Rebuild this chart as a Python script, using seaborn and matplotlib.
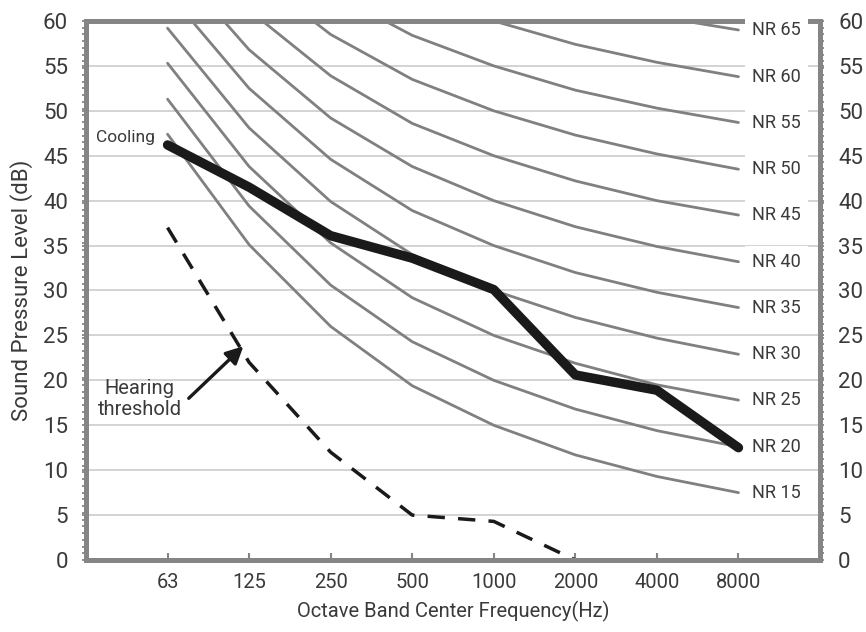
import numpy as np
import pandas as pd
import matplotlib
matplotlib.use('Agg')
import matplotlib.pyplot as plt
from matplotlib.ticker import MultipleLocator
import seaborn as sns

# ── DATA ────────────────────────────────────────────────────────────────────
FREQS = ["63", "125", "250", "500", "1000", "2000", "4000", "8000"]

NR_LABELS = ["NR 15", "NR 20", "NR 25", "NR 30", "NR 35", "NR 40",
             "NR 45", "NR 50", "NR 55", "NR 60", "NR 65"]
NR_LEVELS = [
    [47.4, 35.1, 26.0, 19.4, 15.0, 11.7, 9.3, 7.5],
    [51.3, 39.4, 30.6, 24.3, 20.0, 16.8, 14.4, 12.6],
    [55.3, 43.8, 35.3, 29.2, 25.0, 21.9, 19.5, 17.8],
    [59.2, 48.1, 39.9, 34.0, 30.0, 27.0, 24.7, 22.9],
    [63.2, 52.5, 44.6, 38.9, 35.0, 32.0, 29.8, 28.1],
    [67.1, 56.8, 49.2, 43.8, 40.0, 37.1, 34.9, 33.2],
    [71.1, 61.2, 53.9, 48.6, 45.0, 42.2, 40.0, 38.4],
    [75.0, 65.5, 58.5, 53.5, 50.0, 47.3, 45.2, 43.5],
    [79.0, 69.9, 63.2, 58.4, 55.0, 52.3, 50.3, 48.7],
    [82.9, 74.2, 67.8, 63.2, 60.0, 57.4, 55.4, 53.8],
    [86.9, 78.6, 72.5, 68.1, 65.0, 62.5, 60.5, 59.0],
]

COOLING = [46.2, 41.5, 36.1, 33.6, 30.1, 20.6, 18.9, 12.5]
HEARING = [37.0, 22.0, 12.0, 5.0, 4.3, 0.0]

# ── STYLE ───────────────────────────────────────────────────────────────────
sns.set_style('white')
plt.rcParams['font.family'] = ['Roboto', 'DejaVu Sans']
TXT = '#3a3a3a'
SPINE = '#858585'

fig = plt.figure(figsize=(8.66, 6.32), dpi=100)
ax = fig.add_axes([0.0993, 0.1139, 0.8476, 0.8529])

x = np.arange(len(FREQS))

nr_df = pd.DataFrame({
    'x': np.tile(x, len(NR_LABELS)),
    'level': np.concatenate(NR_LEVELS),
    'curve': np.repeat(NR_LABELS, len(FREQS)),
})
sns.lineplot(data=nr_df, x='x', y='level', hue='curve',
             palette=['#808080'] * len(NR_LABELS), linewidth=2.0,
             legend=False, ax=ax, zorder=3)

sns.lineplot(x=x[:len(HEARING)], y=HEARING, color='#1a1a1a', linewidth=2.5,
             linestyle=(0, (5, 3.8)), ax=ax, zorder=3)

sns.lineplot(x=x, y=COOLING, color='#1a1a1a', linewidth=6.8,
             solid_capstyle='round', solid_joinstyle='round', ax=ax, zorder=4)

# NR labels at the curve ends
for lab, vals in zip(NR_LABELS, NR_LEVELS):
    ax.text(7.17, vals[-1], lab, ha='left', va='center', fontsize=13,
            color=TXT, zorder=6,
            bbox=dict(facecolor='white', edgecolor='none', pad=5))

ax.text(-0.15, 47.0, 'Cooling', ha='right', va='center', fontsize=12.5,
        color=TXT)
ax.text(-0.34, 17.9, 'Hearing\nthreshold', ha='center', va='center',
        fontsize=14.5, color=TXT, linespacing=1.1)
ax.annotate('', xy=(0.93, 23.8), xytext=(0.26, 18.0),
            arrowprops=dict(arrowstyle='-|>', lw=2.4, color='#1a1a1a',
                            mutation_scale=26, shrinkA=0, shrinkB=0))

# ── AXES ────────────────────────────────────────────────────────────────────
ax.set_xlim(-1, 8)
ax.set_ylim(0, 60)
ax.set_xticks(x)
ax.set_xticklabels(FREQS)
ax.set_yticks(np.arange(0, 61, 5))
ax.yaxis.set_minor_locator(MultipleLocator(0.75))

ax.yaxis.grid(True, which='major', color='#cccccc', linewidth=1.2)
ax.set_axisbelow(True)

for side in ['left', 'right', 'top', 'bottom']:
    ax.spines[side].set_visible(True)
    ax.spines[side].set_color(SPINE)
    ax.spines[side].set_linewidth(3.6)
    ax.spines[side].set_zorder(5)

ax.tick_params(axis='y', which='both', left=True, right=True,
               labelleft=True, labelright=True, direction='out',
               length=3, width=1.3, color=SPINE, labelsize=16,
               labelcolor=TXT, pad=10)
ax.tick_params(axis='x', which='major', bottom=True, direction='in',
               length=5, width=1.5, color=SPINE, labelsize=14.5,
               labelcolor=TXT, pad=9)

ax.set_xlabel('Octave Band Center Frequency(Hz)', fontsize=14.5, color=TXT,
              labelpad=7)
ax.set_ylabel('Sound Pressure Level (dB)', fontsize=16, color=TXT,
              labelpad=7)

plt.savefig('out.png', dpi=100)
plt.close()
